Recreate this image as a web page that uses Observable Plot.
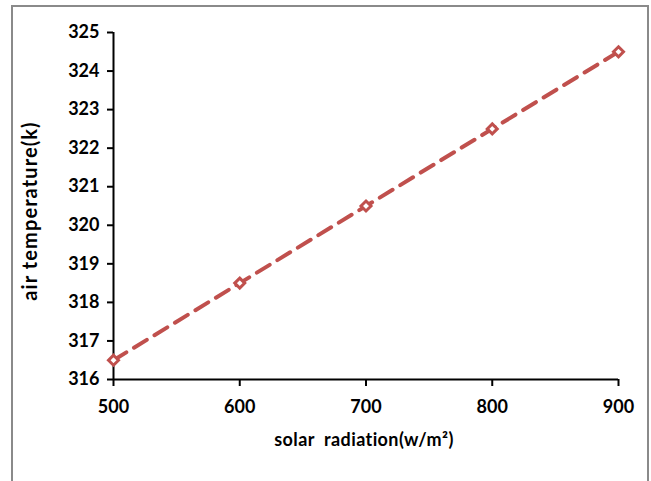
<!DOCTYPE html>
<html><head><meta charset="utf-8">
<script src="https://cdn.jsdelivr.net/npm/d3@7"></script>
<script src="https://cdn.jsdelivr.net/npm/@observablehq/plot@0.6"></script>
<style>
body{margin:0;background:#fff;}
#wrap{position:relative;width:651px;height:481px;overflow:hidden;}
#frame{position:absolute;left:11px;top:5px;width:638px;height:490px;border:2px solid #8a8a8a;box-sizing:border-box;pointer-events:none;}
#chart text{font-weight:bold;}
#chart .ylab text{letter-spacing:1.1px;}
#chart .xlab text{letter-spacing:0.4px;}
</style></head>
<body><div id="wrap"><div id="frame"></div><div id="chart"></div></div>
<script>
const radiation = [500, 600, 700, 800, 900];
const temperature = [316.5, 318.5, 320.5, 322.5, 324.5];
const xTicks = [500, 600, 700, 800, 900];
const yTicks = [316, 317, 318, 319, 320, 321, 322, 323, 324, 325];
const data = radiation.map((x, i) => ({x, y: temperature[i]}));
const font = "Lato, sans-serif";
const plot = Plot.plot({
  width: 651, height: 481,
  marginLeft: 113, marginRight: 33, marginTop: 32, marginBottom: 102,
  style: {fontFamily: font, fontSize: "17px", fontWeight: "bold", color: "#000", background: "transparent"},
  x: {domain: [500, 900], label: null},
  y: {domain: [316, 325], label: null},
  marks: [
    Plot.ruleY([316], {stroke: "#000", strokeWidth: 2}),
    Plot.ruleX([500], {stroke: "#000", strokeWidth: 2}),
    Plot.axisX({ticks: xTicks, tickSize: 7, tickPadding: 14, strokeWidth: 2, fontWeight: "bold", fontSize: 18, label: null}),
    Plot.axisY({ticks: yTicks, tickSize: 6, tickPadding: 8, strokeWidth: 2, fontWeight: "bold", fontSize: 18, label: null}),
    Plot.line(data, {x: "x", y: "y", stroke: "#c0504d", strokeWidth: 4, strokeDasharray: "15,9"}),
    Plot.dot(data, {x: "x", y: "y", symbol: "diamond2", r: 4.5, stroke: "#c0504d", strokeWidth: 3, fill: "#fff"}),
    Plot.text(["solar  radiation(w/m²)"], {frameAnchor: "bottom", textAnchor: "middle", dx: -2, dy: 66, fontSize: 18, fontWeight: "bold", fontFamily: font, className: "xlab"}),
    Plot.text(["air temperature(k)"], {frameAnchor: "left", textAnchor: "middle", dx: -83, dy: 5, rotate: -90, fontSize: 20, fontWeight: "bold", fontFamily: font, className: "ylab"})
  ]
});
document.getElementById("chart").appendChild(plot);
</script></body></html>
